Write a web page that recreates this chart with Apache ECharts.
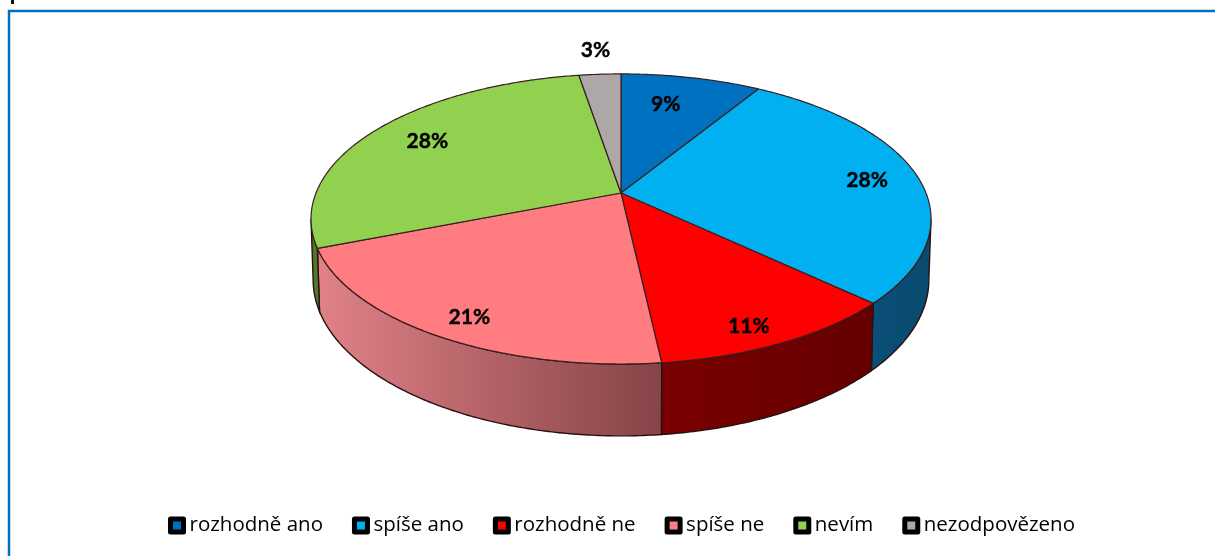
<!DOCTYPE html>
<html><head><meta charset="utf-8">
<style>html,body{margin:0;padding:0;background:#fff}#c{width:1215px;height:556px}</style>
<script src="https://cdn.jsdelivr.net/npm/echarts@6/dist/echarts.min.js"></script>
</head><body><div id="c"></div>
<script>
const categories = ['rozhodně ano','spíše ano','rozhodně ne','spíše ne','nevím','nezodpovězeno'];
const values = [8.7,28.4,11.15,20.75,28.4,2.6];
const topColors = ['#0070C0','#00B0F0','#FF0000','#FF7C80','#92D050','#ADA7A7'];
const wallColors = [['#003A64','#003A64'],['#0A4F78','#0A4A6E'],['#7A0000','#650000'],['#E08288','#864347'],['#4E7A2A','#4E7A2A'],['#666','#666']];
// label placement along the slice radius, and vertical nudge
const labelRadius = [0.6,0.83,0.82,0.84,0.78,1.25];
const labelNudge = [-15,2,14,8,-1,0];

const PIE = {cx:621, cy:193, A:305, B:140.4, k:0.179, depth:59, shrink:0.993};
const total = values.reduce((a,b)=>a+b,0);
const starts = values.map((_,i)=>values.slice(0,i).reduce((a,b)=>a+b,0));

function project(theta, r){
  const u=r*Math.sin(theta), v=r*Math.cos(theta), w=1+PIE.k*v;
  return {x:PIE.cx+PIE.A*u/w, y:PIE.cy-PIE.B*v/w, w};
}
function arc(a,b){
  const n=Math.max(2,Math.ceil(Math.abs(b-a)/0.01)), pts=[];
  for(let i=0;i<=n;i++) pts.push(project(a+(b-a)*i/n,1));
  return pts;
}
const frontA=Math.acos(-PIE.k), frontB=2*Math.PI-frontA;

function renderSlice(params, api){
  const i=params.seriesIndex;
  const s=api.value(0)/total*2*Math.PI, e=s+api.value(1)/total*2*Math.PI;
  const children=[];
  const a=Math.max(s,frontA), b=Math.min(e,frontB);
  if(b>a){
    const top=arc(a,b);
    const bot=top.map(p=>[PIE.cx+(p.x-PIE.cx)*PIE.shrink,p.y+PIE.depth/p.w]).reverse();
    children.push({type:'polygon',z2:1,
      shape:{points:top.map(p=>[p.x,p.y]).concat(bot)},
      style:{fill:new echarts.graphic.LinearGradient(0,0,1,0,[{offset:0,color:wallColors[i][0]},{offset:1,color:wallColors[i][1]}]),
        stroke:'#2a1010',lineWidth:1.4}});
  }
  children.push({type:'polygon',z2:5,
    shape:{points:[[PIE.cx,PIE.cy]].concat(arc(s,e).map(p=>[p.x,p.y]))},
    style:{fill:topColors[i],stroke:'#3a2020',lineWidth:1.2,lineJoin:'round'}});
  const l=project((s+e)/2,labelRadius[i]);
  children.push({type:'text',z2:10,
    style:{x:l.x,y:l.y+labelNudge[i],text:Math.round(api.value(1)/total*100)+'%',
      align:'center',verticalAlign:'middle',fill:'#000',stroke:'#000',lineWidth:0.4,
      font:'bold 21px Lato, "Open Sans", sans-serif'}});
  return {type:'group',children};
}

const chart=echarts.init(document.getElementById('c'),null,{renderer:'canvas'});
chart.setOption({
  animation:false,
  backgroundColor:'#fff',
  legend:{
    data:categories.map((name,i)=>({name,icon:'rect',
      itemStyle:{color:topColors[i],borderColor:'#000',borderWidth:5,borderJoin:'round'}})),
    left:168, top:515, orient:'horizontal',
    itemWidth:13, itemHeight:13, itemGap:29, padding:0,
    textStyle:{fontFamily:'"Open Sans", sans-serif',fontSize:20.5,color:'#000',padding:[0,0,0,1]}
  },
  graphic:[
    {type:'polyline',shape:{points:[[9,556],[9,11],[1215,11]]},style:{stroke:'#0070C0',lineWidth:2.5,fill:null},silent:true},
    {type:'rect',shape:{x:11,y:0,width:3,height:4},style:{fill:'#111'},silent:true}
  ],
  series:categories.map((name,i)=>({
    type:'custom',name,coordinateSystem:'none',
    itemStyle:{color:topColors[i]},
    renderItem:renderSlice,
    data:[[starts[i],values[i]]]
  }))
});
</script></body></html>
